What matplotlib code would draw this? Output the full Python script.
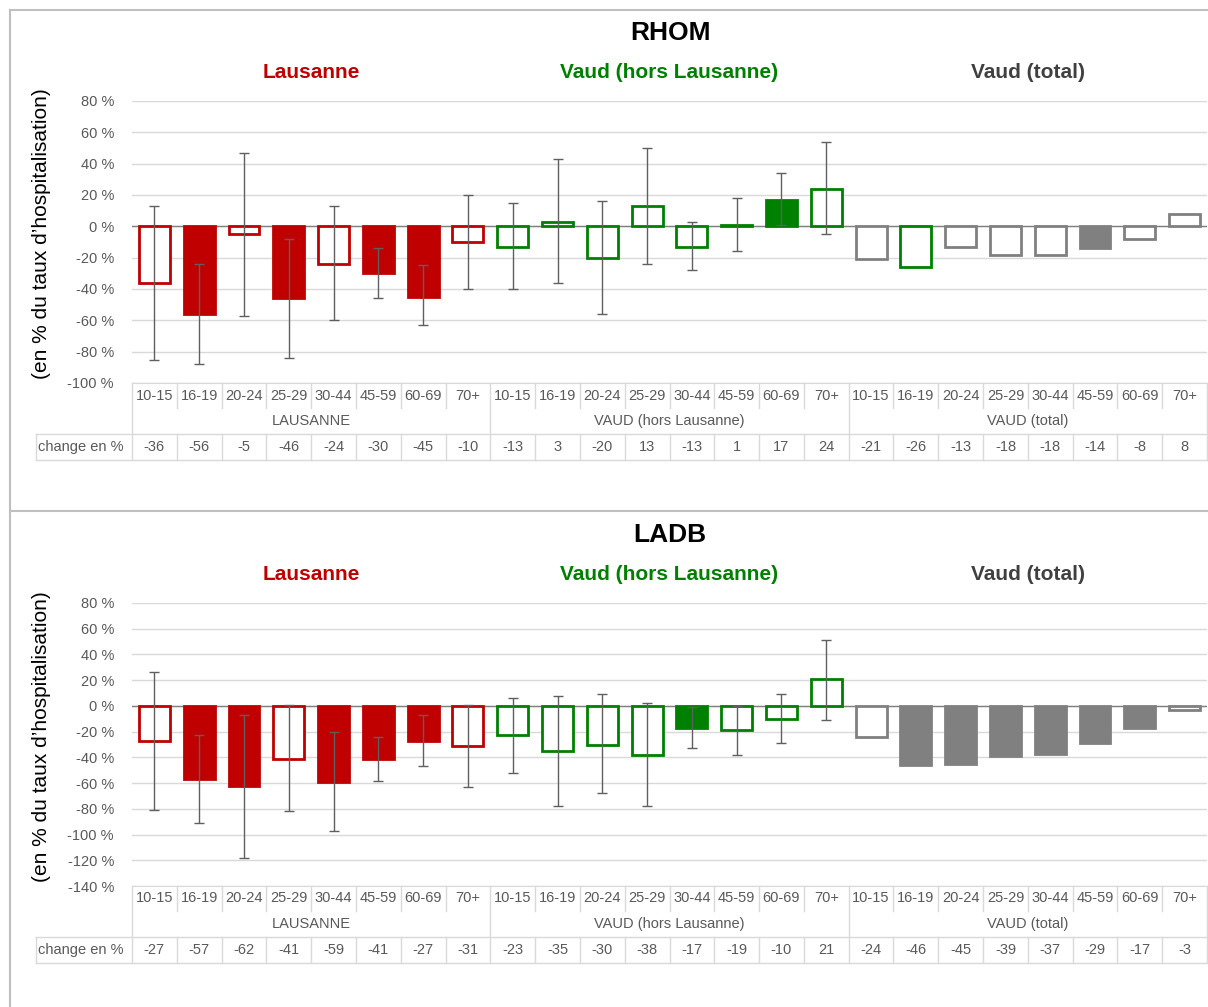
import matplotlib
matplotlib.use("Agg")
import matplotlib.pyplot as plt
import matplotlib.transforms as mtransforms
from matplotlib.lines import Line2D

plt.rcParams['font.family'] = ['Liberation Sans', 'DejaVu Sans']

# --- data ---
ages = ["10-15", "16-19", "20-24", "25-29", "30-44", "45-59", "60-69", "70+"]
region_titles = ["Lausanne", "Vaud (hors Lausanne)", "Vaud (total)"]
region_table = ["LAUSANNE", "VAUD (hors Lausanne)", "VAUD (total)"]
title_colors = ["#C00000", "#008000", "#404040"]

# RHOM
rhom_lausanne = [-36, -56, -5, -46, -24, -30, -45, -10]
rhom_hors = [-13, 3, -20, 13, -13, 1, 17, 24]
rhom_total = [-21, -26, -13, -18, -18, -14, -8, 8]
rhom_sig_lausanne = [0, 1, 0, 1, 0, 1, 1, 0]
rhom_sig_hors = [0, 0, 0, 0, 0, 0, 1, 0]
rhom_sig_total = [0, 0, 0, 0, 0, 1, 0, 0]
rhom_low_lausanne = [-85, -88, -57, -84, -60, -46, -63, -40]
rhom_high_lausanne = [13, -24, 47, -8, 13, -14, -25, 20]
rhom_low_hors = [-40, -36, -56, -24, -28, -16, 1, -5]
rhom_high_hors = [15, 43, 16, 50, 3, 18, 34, 54]
rhom_total_edges = ["#808080", "#008000", "#808080", "#808080",
                    "#808080", "#808080", "#808080", "#808080"]

# LADB
ladb_lausanne = [-27, -57, -62, -41, -59, -41, -27, -31]
ladb_hors = [-23, -35, -30, -38, -17, -19, -10, 21]
ladb_total = [-24, -46, -45, -39, -37, -29, -17, -3]
ladb_sig_lausanne = [0, 1, 1, 0, 1, 1, 1, 0]
ladb_sig_hors = [0, 0, 0, 0, 1, 0, 0, 0]
ladb_sig_total = [0, 1, 1, 1, 1, 1, 1, 0]
ladb_low_lausanne = [-81, -91, -118, -82, -97, -58, -47, -63]
ladb_high_lausanne = [26, -23, -7, 1, -20, -24, -7, 1]
ladb_low_hors = [-52, -78, -68, -78, -33, -38, -29, -11]
ladb_high_hors = [6, 8, 9, 2, -1, 0, 9, 51]
ladb_total_edges = ["#808080"] * 8

W, H = 1208, 1007
fig = plt.figure(figsize=(W / 100, H / 100), dpi=100)

GRID = "#D9D9D9"
TXT = "#595959"
FS = 10.5


def fy(y):
    return 1 - y / H


def draw_panel(top, bottom, ymin, name, series, sigs, edges, lows, highs):
    # top/bottom: pixel rows of the y=80 and y=ymin gridlines
    ax = fig.add_axes([132 / W, fy(bottom), 1075 / W, (bottom - top) / H])
    ax.set_xlim(-0.5, 23.5)
    ax.set_ylim(ymin, 80)
    ax.set_yticks(range(ymin, 81, 20))
    ax.set_yticklabels(["%d %%" % v for v in range(ymin, 81, 20)],
                       fontsize=FS, color=TXT)
    ax.tick_params(axis='y', length=0, pad=13)
    ax.tick_params(axis='x', length=0, labelbottom=False)
    for s in ["top", "left", "right"]:
        ax.spines[s].set_visible(False)
    ax.spines["bottom"].set_color(GRID)
    ax.grid(axis='y', color=GRID, lw=1)
    ax.set_axisbelow(True)
    ax.axhline(0, color="#808080", lw=1, zorder=1)

    colors = ["#C00000", "#008000", "#808080"]
    for g in range(3):
        xs = [g * 8 + i for i in range(8)]
        for i, x in enumerate(xs):
            c = colors[g]
            ec = edges[i] if g == 2 else c
            fc = c if sigs[g][i] else "white"
            ax.bar(x, series[g][i], width=0.69, color=fc, edgecolor=ec,
                   linewidth=2.0, zorder=2)
        if lows[g] is not None:
            mid = [(lo + hi) / 2 for lo, hi in zip(lows[g], highs[g])]
            err = [(hi - lo) / 2 for lo, hi in zip(lows[g], highs[g])]
            ax.errorbar(xs, mid, yerr=err, fmt='none', ecolor="#5f5f5f",
                        elinewidth=1, capsize=3.5, capthick=1, zorder=3)

    ax.set_ylabel("(en % du taux d\u2019hospitalisation)", fontsize=15,
                  color="black")
    ax.yaxis.set_label_coords(51 / W, fy((top + bottom) / 2 - 8),
                              transform=fig.transFigure)

    # title and region headers
    fig.text(670 / W, fy(top - 68), name, ha='center', va='center',
             fontsize=19, fontweight='bold', color='black')
    bt = mtransforms.blended_transform_factory(ax.transData, fig.transFigure)
    for g in range(3):
        ax.text(g * 8 + 3.5, fy(top - 29), region_titles[g], transform=bt,
                ha='center', va='center', fontsize=15, fontweight='bold',
                color=title_colors[g])

    # table under the axis
    r1, r2, r3, r4 = bottom, bottom + 25, bottom + 51, bottom + 77
    for g in range(3):
        for i in range(8):
            x = g * 8 + i
            ax.text(x, fy((r1 + r2) / 2), ages[i], transform=bt, ha='center',
                    va='center', fontsize=FS, color=TXT, clip_on=False)
            ax.text(x, fy((r3 + r4) / 2), "%d" % series[g][i], transform=bt,
                    ha='center', va='center', fontsize=FS, color=TXT,
                    clip_on=False)
        ax.text(g * 8 + 3.5, fy((r2 + r3) / 2), region_table[g], transform=bt,
                ha='center', va='center', fontsize=FS, color=TXT,
                clip_on=False)
    fig.text(38 / W, fy((r3 + r4) / 2), "change en %", ha='left', va='center',
             fontsize=FS, color=TXT)

    for k in range(25):
        xb = k - 0.5
        if k % 8 == 0:
            ax.plot([xb, xb], [fy(r1), fy(r4)], transform=bt, color=GRID,
                    lw=1, clip_on=False)
        else:
            ax.plot([xb, xb], [fy(r1), fy(r2)], transform=bt, color=GRID,
                    lw=1, clip_on=False)
            ax.plot([xb, xb], [fy(r3), fy(r4)], transform=bt, color=GRID,
                    lw=1, clip_on=False)
    for yy in (r3, r4):
        fig.add_artist(Line2D([36 / W, 1207 / W], [fy(yy), fy(yy)],
                              color=GRID, lw=1))
    fig.add_artist(Line2D([36 / W, 36 / W], [fy(r3), fy(r4)], color=GRID, lw=1))
    return ax


draw_panel(101, 383, -100, "RHOM",
           [rhom_lausanne, rhom_hors, rhom_total],
           [rhom_sig_lausanne, rhom_sig_hors, rhom_sig_total],
           rhom_total_edges,
           [rhom_low_lausanne, rhom_low_hors, None],
           [rhom_high_lausanne, rhom_high_hors, None])

draw_panel(603, 886, -140, "LADB",
           [ladb_lausanne, ladb_hors, ladb_total],
           [ladb_sig_lausanne, ladb_sig_hors, ladb_sig_total],
           ladb_total_edges,
           [ladb_low_lausanne, ladb_low_hors, None],
           [ladb_high_lausanne, ladb_high_hors, None])

# outer frame and separator
FRAME = "#BFBFBF"
fig.add_artist(Line2D([10 / W, 1], [fy(10), fy(10)], color=FRAME, lw=1.5))
fig.add_artist(Line2D([10 / W, 10 / W], [fy(10), 0], color=FRAME, lw=1.5))
fig.add_artist(Line2D([10 / W, 1], [fy(511), fy(511)], color=FRAME, lw=1.5))

fig.savefig("out.png", dpi=100)
